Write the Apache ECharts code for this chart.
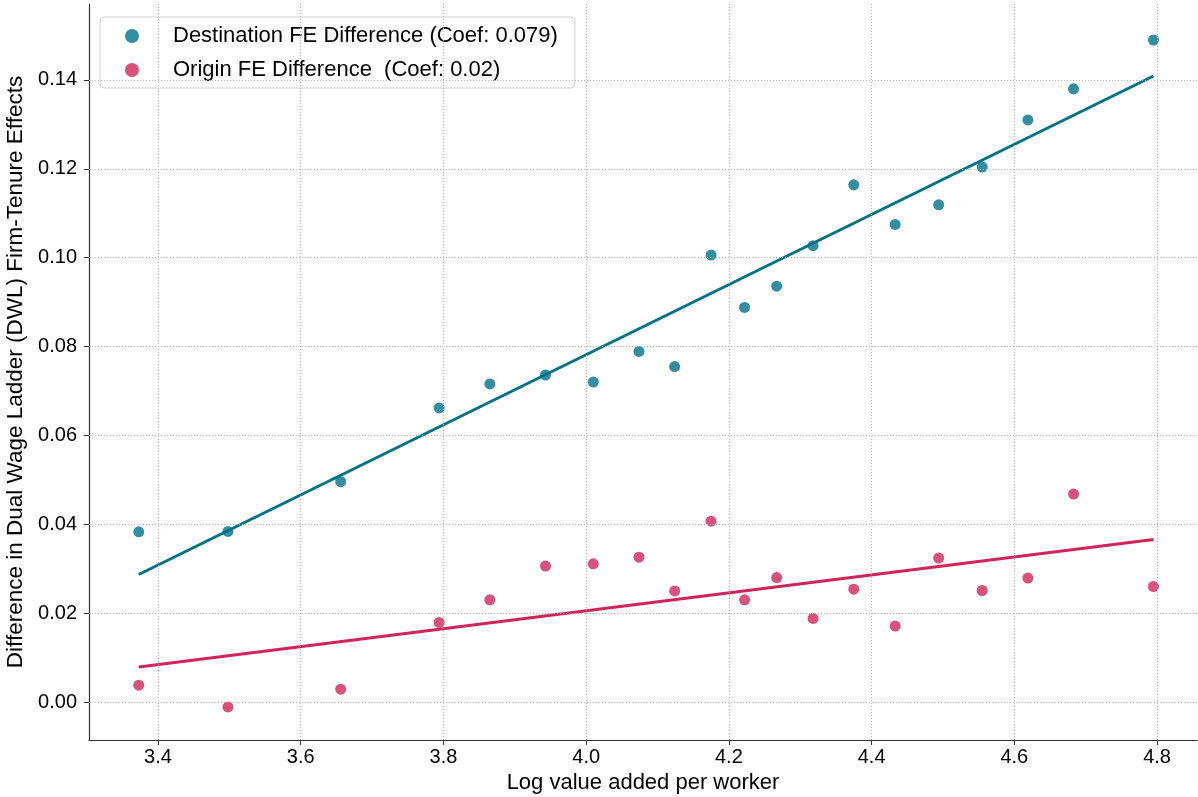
<!DOCTYPE html>
<html>
<head>
<meta charset="utf-8">
<script src="https://cdn.jsdelivr.net/npm/echarts@6/dist/echarts.min.js"></script>
<style>html,body{margin:0;padding:0;background:#fff}#c{width:1198px;height:797px}</style>
</head>
<body>
<div id="c"></div>
<script>
// ---- data ----
const xVals = [3.373, 3.498, 3.656, 3.794, 3.865, 3.943, 4.010, 4.074, 4.124, 4.175, 4.222, 4.267, 4.318, 4.375, 4.433, 4.494, 4.555, 4.619, 4.683, 4.795];
const destVals = [0.0383, 0.0384, 0.0496, 0.0662, 0.0716, 0.0736, 0.0720, 0.0789, 0.0755, 0.1006, 0.0888, 0.0936, 0.1027, 0.1164, 0.1075, 0.1119, 0.1204, 0.1310, 0.1380, 0.1490];
const origVals = [0.0038, -0.0011, 0.0029, 0.0179, 0.0230, 0.0306, 0.0311, 0.0326, 0.0250, 0.0407, 0.0230, 0.0280, 0.0188, 0.0254, 0.0171, 0.0324, 0.0251, 0.0279, 0.0468, 0.0260];
const fitX = [3.373, 4.795];
const destFit = [0.0287, 0.1409];
const origFit = [0.0079, 0.0366];
const xTicks = [3.4, 3.6, 3.8, 4.0, 4.2, 4.4, 4.6, 4.8];
const yTicks = [0.00, 0.02, 0.04, 0.06, 0.08, 0.10, 0.12, 0.14];
const destName = 'Destination FE Difference (Coef: 0.079)';
const origName = 'Origin FE Difference  (Coef: 0.02)';
const xTitle = 'Log value added per worker';
const yTitle = 'Difference in Dual Wage Ladder (DWL) Firm-Tenure Effects';

const TEAL = '#00728a', PINK = '#d1255a';
const FONT = 'Liberation Sans';
const pairs = (xs, ys) => xs.map((x, i) => [x, ys[i]]);

const chart = echarts.init(document.getElementById('c'), null, {renderer: 'canvas'});
const gridLine = {type: [1, 2], color: '#b5b5b5', width: 1};
chart.setOption({
  animation: false,
  backgroundColor: '#fff',
  textStyle: {fontFamily: FONT},
  grid: {left: 89, right: 1, top: 4, bottom: 57, containLabel: false, outerBoundsMode: 'none'},
  legend: {
    data: [destName, origName],
    orient: 'vertical',
    left: 100, top: 17,
    padding: [6, 17, 5, 25],
    itemWidth: 14, itemHeight: 14, itemGap: 8,
    icon: 'circle',
    borderColor: '#d0d0d0', borderWidth: 1, borderRadius: 4,
    backgroundColor: 'rgba(255,255,255,0.85)',
    textStyle: {fontFamily: FONT, fontSize: 22, color: '#000', lineHeight: 26, padding: [0, 0, 0, 29]}
  },
  xAxis: {
    type: 'value', min: 3.3033, max: 4.856,
    name: xTitle, nameLocation: 'middle', nameGap: 29,
    nameTextStyle: {fontFamily: FONT, fontSize: 22, color: '#000'},
    axisLine: {show: true, onZero: false, lineStyle: {color: '#333', width: 1.2}},
    axisTick: {show: true, inside: false, length: 5, lineStyle: {color: '#333', width: 1}, customValues: xTicks},
    axisLabel: {fontFamily: FONT, fontSize: 20, color: '#000', margin: 7, customValues: xTicks,
      formatter: v => Number(v).toFixed(1)},
    splitLine: {show: false}
  },
  yAxis: {
    type: 'value', min: -0.00855, max: 0.1571,
    name: yTitle, nameLocation: 'middle', nameGap: 55, nameRotate: 90,
    nameTextStyle: {fontFamily: FONT, fontSize: 22.5, color: '#000'},
    axisLine: {show: true, onZero: false, lineStyle: {color: '#333', width: 1.2}},
    axisTick: {show: true, inside: false, length: 5, lineStyle: {color: '#333', width: 1}, customValues: yTicks},
    axisLabel: {fontFamily: FONT, fontSize: 20, color: '#000', margin: 12, customValues: yTicks,
      formatter: v => Number(v).toFixed(2)},
    splitLine: {show: false}
  },
  series: [
    {
      type: 'scatter', data: [], z: 0, silent: true,
      markLine: {
        silent: true, symbol: 'none', label: {show: false},
        lineStyle: gridLine, animation: false,
        data: xTicks.map(v => ({xAxis: v})).concat(yTicks.map(v => ({yAxis: v})))
      }
    },
    {
      name: 'destFit', type: 'line', data: pairs(fitX, destFit), showSymbol: false, symbol: 'none',
      lineStyle: {color: TEAL, width: 3}, itemStyle: {color: TEAL}, z: 2, silent: true
    },
    {
      name: 'origFit', type: 'line', data: pairs(fitX, origFit), showSymbol: false, symbol: 'none',
      lineStyle: {color: PINK, width: 3}, itemStyle: {color: PINK}, z: 2, silent: true
    },
    {
      name: destName, type: 'scatter', data: pairs(xVals, destVals), symbolSize: 11,
      itemStyle: {color: TEAL, opacity: 0.8}, z: 3
    },
    {
      name: origName, type: 'scatter', data: pairs(xVals, origVals), symbolSize: 11,
      itemStyle: {color: PINK, opacity: 0.8}, z: 3
    }
  ]
});
</script>
</body>
</html>
